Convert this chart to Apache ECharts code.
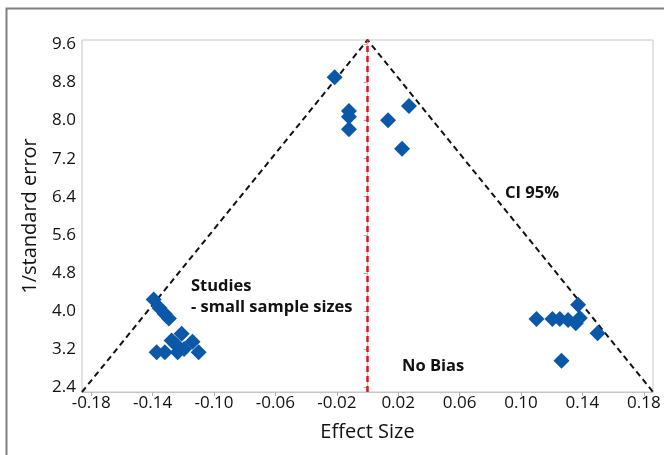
<!DOCTYPE html>
<html>
<head>
<meta charset="utf-8">
<script src="https://cdn.jsdelivr.net/npm/echarts@6/dist/echarts.min.js"></script>
<style>html,body{margin:0;padding:0;background:#fff;}#main{width:664px;height:455px;}</style>
</head>
<body>
<div id="main"></div>
<script>
// ---- data ----
const xTicks = [-0.18, -0.14, -0.10, -0.06, -0.02, 0.02, 0.06, 0.10, 0.14, 0.18];
const yTicks = [2.4, 3.2, 4.0, 4.8, 5.6, 6.4, 7.2, 8.0, 8.8, 9.6];
const xRange = [-0.186, 0.186];
const yRange = [2.295, 9.695];
// studies: [effect size, 1/standard error]
const topStudies = [[-0.0214, 8.91], [-0.0121, 8.20], [-0.0121, 8.08], [-0.0121, 7.82], [0.0134, 8.01], [0.0270, 8.31], [0.0225, 7.41]];
const leftStudies = [[-0.1393, 4.24], [-0.1355, 4.06], [-0.1322, 3.94], [-0.1294, 3.84],
  [-0.1374, 3.13], [-0.1320, 3.13], [-0.1276, 3.38], [-0.1250, 3.30], [-0.1211, 3.52], [-0.1237, 3.13], [-0.1195, 3.20], [-0.1140, 3.35], [-0.1100, 3.13]];
const rightStudies = [[0.1101, 3.83], [0.1205, 3.83], [0.1253, 3.83], [0.1307, 3.81], [0.1357, 3.74], [0.1372, 4.13], [0.1383, 3.85], [0.1499, 3.53], [0.1264, 2.95]];
const funnel = [[-0.186, 2.295], [0.0, 9.695], [0.186, 2.295]];
const noBias = [[0.0, 2.295], [0.0, 9.695]];

const studies = topStudies.concat(leftStudies, rightStudies);

const chart = echarts.init(document.getElementById('main'), null, {renderer: 'canvas'});
const font = '"Open Sans", "Noto Sans", sans-serif';
const fmt = v => v.toFixed(2);
chart.setOption({
  animation: false,
  grid: {left: 82, right: 11, top: 40, bottom: 63, show: true, borderColor: '#c6c6c6', borderWidth: 1},
  xAxis: {
    type: 'value', min: xRange[0], max: xRange[1],
    name: 'Effect Size', nameLocation: 'middle', nameGap: 30,
    nameTextStyle: {fontFamily: font, fontSize: 20, color: '#111'},
    splitLine: {show: false},
    axisLine: {show: true, lineStyle: {color: '#c6c6c6'}},
    axisTick: {show: true, length: 4, lineStyle: {color: '#b0b0b0'}, customValues: xTicks},
    axisLabel: {fontFamily: font, fontSize: 17, color: '#111', margin: 3, customValues: xTicks, formatter: fmt}
  },
  yAxis: {
    type: 'value', min: yRange[0], max: yRange[1],
    name: '1/standard error', nameLocation: 'middle', nameGap: 42, nameRotate: 90,
    nameTextStyle: {fontFamily: font, fontSize: 20, color: '#111'},
    splitLine: {show: false},
    axisLine: {show: true, lineStyle: {color: '#c6c6c6'}},
    axisTick: {show: true, length: 4, lineStyle: {color: '#b0b0b0'}, customValues: yTicks},
    axisLabel: {fontFamily: font, fontSize: 17, color: '#111', margin: 6, customValues: yTicks, formatter: v => v.toFixed(1)}
  },
  series: [
    {type: 'line', data: funnel, symbol: 'none', z: 3,
     lineStyle: {color: '#111', width: 2, type: [6, 4]}},
    {type: 'line', data: noBias, symbol: 'none', z: 3,
     lineStyle: {color: '#e0141e', width: 2.5, type: [6, 4]}},
    {type: 'scatter', data: studies, symbol: 'diamond', symbolSize: 16, z: 4,
     itemStyle: {color: '#0b57a8', opacity: 1}}
  ],
  graphic: [
    {type: 'rect', shape: {x: 6.5, y: 8.5, width: 720, height: 520}, style: {fill: 'none', stroke: '#808080', lineWidth: 2}, z: 0},
    {type: 'text', x: 191, y: 286, style: {text: 'Studies', font: 'bold 16.5px ' + font, fill: '#111', verticalAlign: 'middle'}, z: 10},
    {type: 'text', x: 191, y: 307, style: {text: '- small sample sizes', font: 'bold 16.5px ' + font, fill: '#111', verticalAlign: 'middle'}, z: 10},
    {type: 'text', x: 505, y: 193, style: {text: 'CI 95%', font: 'bold 16.5px ' + font, fill: '#111', verticalAlign: 'middle'}, z: 10},
    {type: 'text', x: 402, y: 366, style: {text: 'No Bias', font: 'bold 16.5px ' + font, fill: '#111', verticalAlign: 'middle'}, z: 10}
  ]
});
</script>
</body>
</html>
